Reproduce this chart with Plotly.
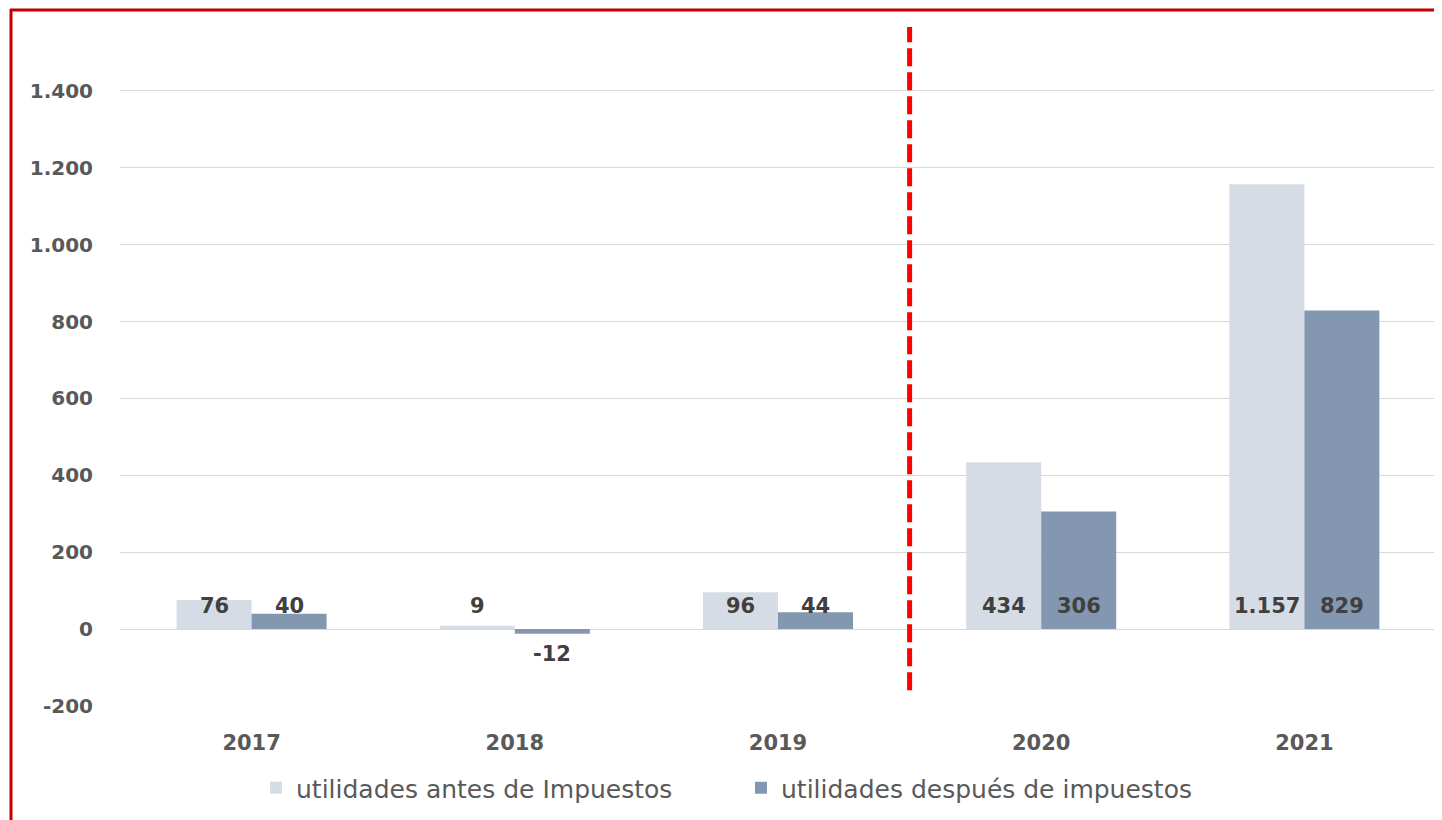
import plotly.graph_objects as go

years = ["2017", "2018", "2019", "2020", "2021"]
antes = [76, 9, 96, 434, 1157]
despues = [40, -12, 44, 306, 829]
series_names = ["utilidades antes de Impuestos", "utilidades después de impuestos"]
y_ticks = [-200, 0, 200, 400, 600, 800, 1000, 1200, 1400]

LIGHT = "#D6DCE5"
DARK = "#8497B0"
FONT = "DejaVu Sans"

# the page body adds an 8px offset; positions below are in figure pixels
OFF = 8
W, H = 1442, 820
L, R, T = 120 - OFF, 14, 14 - OFF
B = H - (706 - OFF)
pw, ph = W - L - R, H - T - B

def px2paper_x(px):
    return (px - OFF - L) / pw

def px2paper_y(py):
    return (H - B - (py - OFF)) / ph

def fmt(v):
    s = f"{abs(v):,}".replace(",", ".")
    return ("-" if v < 0 else "") + s

fig = go.Figure()
fig.add_trace(go.Bar(x=years, y=antes, name=series_names[0], marker_color=LIGHT,
                     marker_line_width=0))
fig.add_trace(go.Bar(x=years, y=despues, name=series_names[1], marker_color=DARK,
                     marker_line_width=0))

annotations = []
for vals, shift in ((antes, -37.5), (despues, 37.5)):
    for i, v in enumerate(vals):
        annotations.append(dict(
            x=i, y=0, xref="x", yref="y", text=fmt(v), showarrow=False,
            xshift=shift, yanchor="bottom" if v >= 0 else "top",
            yshift=9 if v >= 0 else -11,
            font=dict(family=FONT, size=21, color="#404040", weight="bold"),
        ))

shapes = [
    # dashed separator between 2019 and 2020
    dict(type="line", xref="x", yref="y", x0=2.5, x1=2.5, y0=-159, y1=1566,
         line=dict(color="#FF0000", width=5, dash="18px,6px")),
    # red frame (left and top)
    dict(type="line", xref="paper", yref="paper",
         x0=px2paper_x(11), x1=px2paper_x(11), y0=px2paper_y(9), y1=px2paper_y(840),
         line=dict(color="#C00000", width=3)),
    dict(type="line", xref="paper", yref="paper",
         x0=px2paper_x(10), x1=px2paper_x(1470), y0=px2paper_y(10), y1=px2paper_y(10),
         line=dict(color="#C00000", width=3)),
]

fig.update_layout(
    width=W, height=H,
    margin=dict(l=L, r=R, t=T, b=B, autoexpand=False),
    paper_bgcolor="white", plot_bgcolor="white",
    barmode="group", bargap=0.43, bargroupgap=0,
    separators=",.",
    font=dict(family=FONT, color="#595959"),
    annotations=annotations,
    shapes=shapes,
    legend=dict(orientation="h", x=px2paper_x(256), xanchor="left",
                y=px2paper_y(788), yanchor="middle",
                font=dict(family=FONT, size=25, color="#595959"),
                itemwidth=30, traceorder="normal", entrywidth=440),
    xaxis=dict(type="category", showgrid=False, showline=False, ticks="outside", ticklen=18,
               tickcolor="rgba(0,0,0,0)",
               tickfont=dict(family=FONT, size=21, color="#595959", weight="bold")),
    yaxis=dict(range=[-200, 1600], tickvals=y_ticks, ticktext=[fmt(v) for v in y_ticks],
               showgrid=True, gridcolor="#D9D9D9", gridwidth=1,
               zeroline=True, zerolinecolor="#D9D9D9", zerolinewidth=1,
               showline=False, ticks="outside", ticklen=22,
               tickcolor="rgba(0,0,0,0)",
               tickfont=dict(family=FONT, size=20, color="#595959", weight="bold")),
)

fig.write_html("out.html")
